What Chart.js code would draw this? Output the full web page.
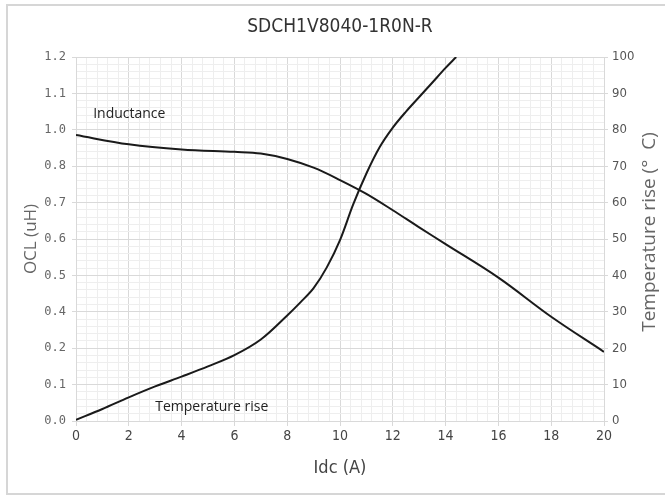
<!DOCTYPE html>
<html>
<head>
<meta charset="utf-8">
<script src="https://cdn.jsdelivr.net/npm/chart.js@4/dist/chart.umd.min.js"></script>
<style>
html,body{margin:0;padding:0;background:#fff;}
#wrap{width:665px;height:497px;position:relative;}
</style>
</head>
<body>
<div id="wrap"><canvas id="c" width="665" height="497"></canvas></div>
<script>
// ---- data ----
const chartTitle = 'SDCH1V8040-1R0N-R';
const idcInductance = [0, 2, 4, 6, 7, 8, 9, 10, 11, 12, 13, 14, 16, 18, 20];
const inductanceUH  = [0.971, 0.92, 0.892, 0.879, 0.87, 0.84, 0.796, 0.762, 0.724, 0.679, 0.632, 0.586, 0.494, 0.373, 0.19];
const idcTemperature = [0, 1, 2, 3, 4, 5, 6, 7, 8, 8.5, 9, 9.5, 10, 10.5, 11, 11.5, 12, 12.5, 13, 13.5, 14, 14.4];
const temperatureRise = [0.3, 3.3, 6.5, 9.5, 12.2, 15, 18.1, 22.4, 29, 32.6, 36.5, 42.2, 49.7, 59.5, 68, 75.2, 80.6, 85, 89, 93, 97, 100];
// left axis labels as printed (evenly spaced, non-uniform values)
const leftTickLabels = ['0.0', '0.1', '0.2', '0.4', '0.5', '0.6', '0.7', '0.8', '1.0', '1.1', '1.2'];
const rightTickLabels = [0, 10, 20, 30, 40, 50, 60, 70, 80, 90, 100];
const xTickLabels = [0, 2, 4, 6, 8, 10, 12, 14, 16, 18, 20];
const seriesNames = ['Inductance', 'Temperature rise'];
const axisTitles = { x: 'Idc (A)', left: 'OCL (uH)', right: 'Temperature rise (°  C)' };

// map an inductance value onto the (evenly spaced) printed left-axis positions
const leftVals = leftTickLabels.map(parseFloat);
function uhToPos(v) {
  for (let i = 0; i < leftVals.length - 1; i++) {
    if (v >= leftVals[i] && v <= leftVals[i + 1]) {
      return i + (v - leftVals[i]) / (leftVals[i + 1] - leftVals[i]);
    }
  }
  return v < leftVals[0] ? 0 : leftVals.length - 1;
}

const inductancePts = idcInductance.map((x, i) => ({ x, y: uhToPos(inductanceUH[i]) }));
const temperaturePts = idcTemperature.map((x, i) => ({ x, y: temperatureRise[i] }));

const NARROW = '"Liberation Sans Narrow","DejaVu Sans Condensed","Open Sans",sans-serif';
const MAJOR = '#d9d9d9', MINOR = '#eeeeee';
function isMultiple(v, m) { const r = v / m; return Math.abs(r - Math.round(r)) < 1e-6; }
const xMajor = xTickLabels[1] - xTickLabels[0];
const yMajor = rightTickLabels[1] - rightTickLabels[0];

const decor = {
  id: 'decor',
  beforeDraw(chart) {
    const c = chart.ctx;
    c.save();
    c.fillStyle = '#fff';
    c.fillRect(0, 0, chart.width, chart.height);
    c.strokeStyle = '#d6d6d6';
    c.lineWidth = 2;
    c.strokeRect(7, 5, chart.width, 489);
    c.restore();
  },
  afterDraw(chart) {
    const c = chart.ctx, a = chart.chartArea;
    const xs = chart.scales.x, yR = chart.scales.y;
    c.save();
    // chart title
    c.fillStyle = '#333';
    c.font = '19px ' + NARROW;
    c.textAlign = 'center';
    c.textBaseline = 'middle';
    c.fillText(chartTitle, (a.left + a.right) / 2, 27);
    // right axis title, reading bottom to top
    c.save();
    c.translate(650, (a.top + a.bottom) / 2 - 7);
    c.rotate(-Math.PI / 2);
    c.fillStyle = '#666';
    c.font = '19px "Open Sans",sans-serif';
    c.fillText(axisTitles.right, 0, 0);
    c.restore();
    // series labels
    c.fillStyle = '#222';
    c.font = '14px "Open Sans",sans-serif';
    c.textAlign = 'left';
    c.fillText(seriesNames[0], xs.getPixelForValue(0.65), yR.getPixelForValue(84.3));
    c.fillText(seriesNames[1], xs.getPixelForValue(3.0), yR.getPixelForValue(3.9));
    c.restore();
  }
};

new Chart(document.getElementById('c'), {
  type: 'line',
  data: {
    datasets: [
      { label: seriesNames[0], data: inductancePts, yAxisID: 'yL', borderColor: '#1a1a1a', borderWidth: 2,
        pointRadius: 0, tension: 0.35, fill: false },
      { label: seriesNames[1], data: temperaturePts, yAxisID: 'y', borderColor: '#1a1a1a', borderWidth: 2,
        pointRadius: 0, tension: 0.35, fill: false }
    ]
  },
  options: {
    responsive: false,
    animation: false,
    devicePixelRatio: 1,
    layout: { padding: { top: 57, left: 0, right: 0, bottom: 0 } },
    plugins: { legend: { display: false }, title: { display: false }, tooltip: { enabled: false } },
    scales: {
      x: {
        type: 'linear', position: 'bottom', min: 0, max: 20,
        afterFit(s) { s.height = 76; },
        ticks: {
          stepSize: 0.4, autoSkip: false, maxRotation: 0, padding: 2,
          color: '#444', font: { size: 14, family: NARROW },
          callback: v => (isMultiple(v, xMajor) && xTickLabels.includes(Math.round(v))) ? String(Math.round(v)) : ''
        },
        grid: {
          color: ctx => isMultiple(ctx.tick.value, xMajor) ? MAJOR : MINOR,
          tickColor: ctx => isMultiple(ctx.tick.value, xMajor) ? MAJOR : 'rgba(0,0,0,0)',
          tickLength: 5, lineWidth: 1
        },
        border: { color: MAJOR },
        title: { display: true, text: axisTitles.x, color: '#444', font: { size: 18, family: NARROW },
                 padding: { top: 0, bottom: 18 } }
      },
      yL: {
        type: 'linear', position: 'left', min: 0, max: leftTickLabels.length - 1,
        afterFit(s) { s.width = 76; },
        ticks: {
          stepSize: 1, autoSkip: false, padding: 6, color: '#666',
          font: { size: 12, family: '"DejaVu Sans Mono",monospace' },
          callback: v => leftTickLabels[Math.round(v)]
        },
        grid: { drawOnChartArea: false, color: MAJOR, tickLength: 4 },
        border: { color: MAJOR },
        title: { display: true, text: axisTitles.left, color: '#666', font: { size: 17, family: '"Open Sans",sans-serif' },
                 padding: { top: 21, bottom: 0 } }
      },
      y: {
        type: 'linear', position: 'right', min: 0, max: 100,
        afterFit(s) { s.width = 61; },
        ticks: {
          stepSize: 2, autoSkip: false, padding: 4, color: '#555',
          font: { size: 13, family: NARROW },
          callback: v => (isMultiple(v, yMajor) && rightTickLabels.includes(Math.round(v))) ? String(Math.round(v)) : ''
        },
        grid: {
          color: ctx => isMultiple(ctx.tick.value, yMajor) ? MAJOR : MINOR,
          tickColor: ctx => isMultiple(ctx.tick.value, yMajor) ? MAJOR : 'rgba(0,0,0,0)',
          tickLength: 4, lineWidth: 1
        },
        border: { color: MAJOR }
      }
    }
  },
  plugins: [decor]
});
</script>
</body>
</html>
